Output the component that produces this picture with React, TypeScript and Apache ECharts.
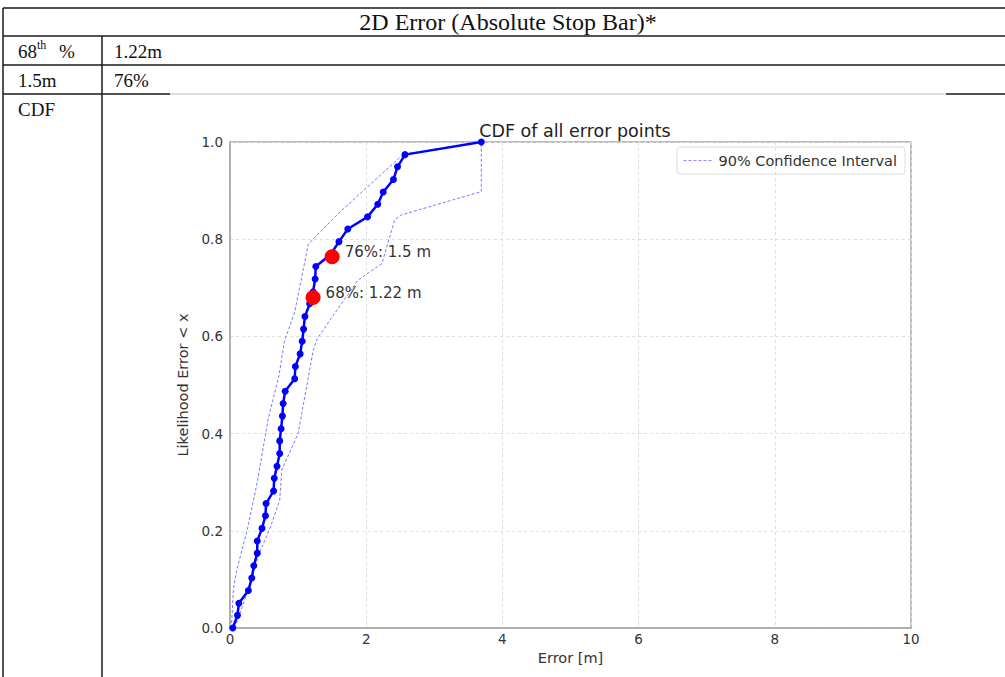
import React, { useEffect, useRef } from "react";
import * as echarts from "echarts";

// CDF points (error in m, likelihood)
const cdfX = [0.04, 0.11, 0.13, 0.27, 0.32, 0.35, 0.40, 0.40, 0.47, 0.52, 0.53, 0.64, 0.65, 0.69, 0.73, 0.73, 0.75, 0.77, 0.78, 0.81,
  0.95, 0.96, 1.03, 1.06, 1.08, 1.10, 1.17, 1.22, 1.25, 1.26, 1.48, 1.60, 1.73, 2.02, 2.17, 2.25, 2.40, 2.46, 2.57, 3.69];
const cdfY = [0.000, 0.026, 0.051, 0.077, 0.103, 0.128, 0.154, 0.179, 0.205, 0.231, 0.256, 0.282, 0.308, 0.333, 0.359, 0.385, 0.410, 0.436, 0.462, 0.487,
  0.513, 0.538, 0.564, 0.590, 0.615, 0.641, 0.667, 0.692, 0.718, 0.744, 0.769, 0.795, 0.821, 0.846, 0.872, 0.897, 0.923, 0.949, 0.974, 1.000];

// 90% confidence interval bounds
const upperX = [0.02, 0.05, 0.10, 0.25, 0.40, 0.56, 0.72, 0.80, 0.95, 1.15, 1.22, 1.57, 2.35, 2.55, 3.69];
const upperY = [0.00, 0.08, 0.12, 0.20, 0.30, 0.43, 0.52, 0.59, 0.65, 0.79, 0.80, 0.85, 0.95, 0.975, 1.00];
const lowerX = [0.07, 0.22, 0.42, 0.60, 0.73, 0.76, 1.00, 1.22, 1.28, 1.54, 1.88, 2.23, 2.42, 2.52, 3.69, 3.69];
const lowerY = [0.00, 0.06, 0.15, 0.21, 0.263, 0.325, 0.40, 0.57, 0.595, 0.648, 0.716, 0.75, 0.84, 0.85, 0.898, 1.00];

// highlighted percentile markers
const markX = [1.22, 1.5];
const markY = [0.68, 0.764];
const markLabels = ["68%: 1.22 m", "76%: 1.5 m"];

// table texts
const tableTitle = "2D Error (Absolute Stop Bar)*";
const rowLabels = ["68th %", "1.5m", "CDF"];
const rowValues = ["1.22m", "76%", ""];

const xTicks = [0, 2, 4, 6, 8, 10];
const yTicks = [0, 0.2, 0.4, 0.6, 0.8, 1.0];

const serif = "'Liberation Serif', 'Times New Roman', serif";
const sans = "'DejaVu Sans', sans-serif";

export default function App() {
  const ref = useRef<HTMLDivElement>(null);
  useEffect(() => {
    if (!ref.current) return;
    const chart = echarts.init(ref.current, null, { renderer: "svg" });
    const zip = (a: number[], b: number[]) => a.map((v, i) => [v, b[i]]);
    const dark = "#1a1a1a";
    const ln = (x1: number, y1: number, x2: number, y2: number, c = dark, w = 1.5) => ({
      type: "line",
      shape: { x1, y1, x2, y2 },
      style: { stroke: c, lineWidth: w },
      silent: true,
    });
    const txt = (x: number, y: number, text: string, align = "left", size = 19) => ({
      type: "text",
      x,
      y,
      style: { text, fontFamily: serif, fontSize: size, fill: "#111", align, verticalAlign: "middle" },
      silent: true,
    });
    const bandStyle = { color: "#7878ff", width: 1, type: [3, 2] };
    chart.setOption({
      animation: false,
      title: {
        text: "CDF of all error points",
        left: 570,
        top: 117,
        textAlign: "center",
        textStyle: { fontFamily: sans, fontSize: 17.5, fontWeight: "normal", color: "#222" },
      },
      legend: {
        data: ["90% Confidence Interval"],
        right: 100,
        top: 147,
        orient: "vertical",
        borderColor: "#ddd",
        borderWidth: 1,
        borderRadius: 3,
        padding: [6, 8, 6, 6],
        itemWidth: 30,
        itemHeight: 10,
        itemGap: 8,
        itemStyle: { opacity: 0 },
        lineStyle: { color: "#8c8cff", width: 1, type: [3, 2] },
        textStyle: { fontFamily: sans, fontSize: 14.5, color: "#333" },
      },
      grid: {
        left: 230,
        top: 142,
        width: 681,
        height: 486,
        show: true,
        borderColor: "#a8a8a8",
        borderWidth: 1.5,
        backgroundColor: "transparent",
      },
      xAxis: {
        type: "value",
        min: xTicks[0],
        max: xTicks[xTicks.length - 1],
        interval: 2,
        name: "Error [m]",
        nameLocation: "middle",
        nameGap: 22,
        nameTextStyle: { fontFamily: sans, fontSize: 14.5, color: "#333" },
        axisLine: { show: true, lineStyle: { color: "#a8a8a8", width: 1.5 } },
        axisTick: { show: false },
        axisLabel: { fontFamily: sans, fontSize: 13.5, color: "#333", margin: 4 },
        splitLine: { show: true, lineStyle: { color: "#ddd", type: [3, 3], width: 1 } },
      },
      yAxis: {
        type: "value",
        min: yTicks[0],
        max: yTicks[yTicks.length - 1],
        interval: 0.2,
        name: "Likelihood Error < x",
        nameLocation: "middle",
        nameGap: 31,
        nameTextStyle: { fontFamily: sans, fontSize: 14.5, color: "#333" },
        axisLine: { show: true, lineStyle: { color: "#a8a8a8", width: 1.5 } },
        axisTick: { show: false },
        axisLabel: { fontFamily: sans, fontSize: 13.5, color: "#333", margin: 7, formatter: (v: number) => v.toFixed(1) },
        splitLine: { show: true, lineStyle: { color: "#ddd", type: [3, 3], width: 1 } },
      },
      series: [
        {
          name: "90% Confidence Interval",
          type: "line",
          data: zip(upperX, upperY),
          symbol: "none",
          lineStyle: bandStyle,
          itemStyle: { color: "#7878ff" },
          z: 2,
        },
        {
          name: "90% Confidence Interval",
          type: "line",
          data: zip(lowerX, lowerY),
          symbol: "none",
          lineStyle: bandStyle,
          itemStyle: { color: "#7878ff" },
          z: 2,
        },
        {
          name: "CDF",
          type: "line",
          data: zip(cdfX, cdfY),
          symbol: "circle",
          symbolSize: 7,
          lineStyle: { color: "#0000ff", width: 2.5 },
          itemStyle: { color: "#0000ff" },
          z: 3,
        },
        {
          name: "Percentiles",
          type: "scatter",
          data: zip(markX, markY),
          symbolSize: 15,
          itemStyle: { color: "#ff0000", opacity: 1 },
          label: {
            show: true,
            position: "right",
            distance: 5,
            offset: [0, -5],
            fontFamily: sans,
            fontSize: 15,
            color: "#333",
            formatter: (p: any) => markLabels[p.dataIndex],
          },
          z: 4,
        },
      ],
      graphic: [
        ln(3, 8, 1005, 8),
        ln(3, 8, 3, 677),
        ln(102, 36, 102, 677),
        ln(3, 36, 1005, 36),
        ln(3, 65, 1005, 65),
        ln(3, 94, 170, 94),
        ln(170, 94, 946, 94, "#d0d0d0", 1.5),
        ln(946, 94, 1005, 94),
        txt(508, 22, tableTitle, "center", 24),
        {
          type: "group",
          silent: true,
          children: [
            txt(18, 51, "68", "left"),
            {
              type: "text",
              x: 37,
              y: 45,
              style: { text: "th", fontFamily: serif, fontSize: 12, fill: "#111", verticalAlign: "middle" },
            },
            txt(59, 51, "%", "left"),
          ],
        },
        txt(18, 80, rowLabels[1]),
        txt(18, 109, rowLabels[2]),
        txt(114, 51, rowValues[0]),
        txt(114, 80, rowValues[1]),
      ],
    });
    return () => chart.dispose();
  }, []);
  return <div ref={ref} style={{ position: "absolute", left: 0, top: 0, width: 1005, height: 677, background: "#fff" }} />;
}
